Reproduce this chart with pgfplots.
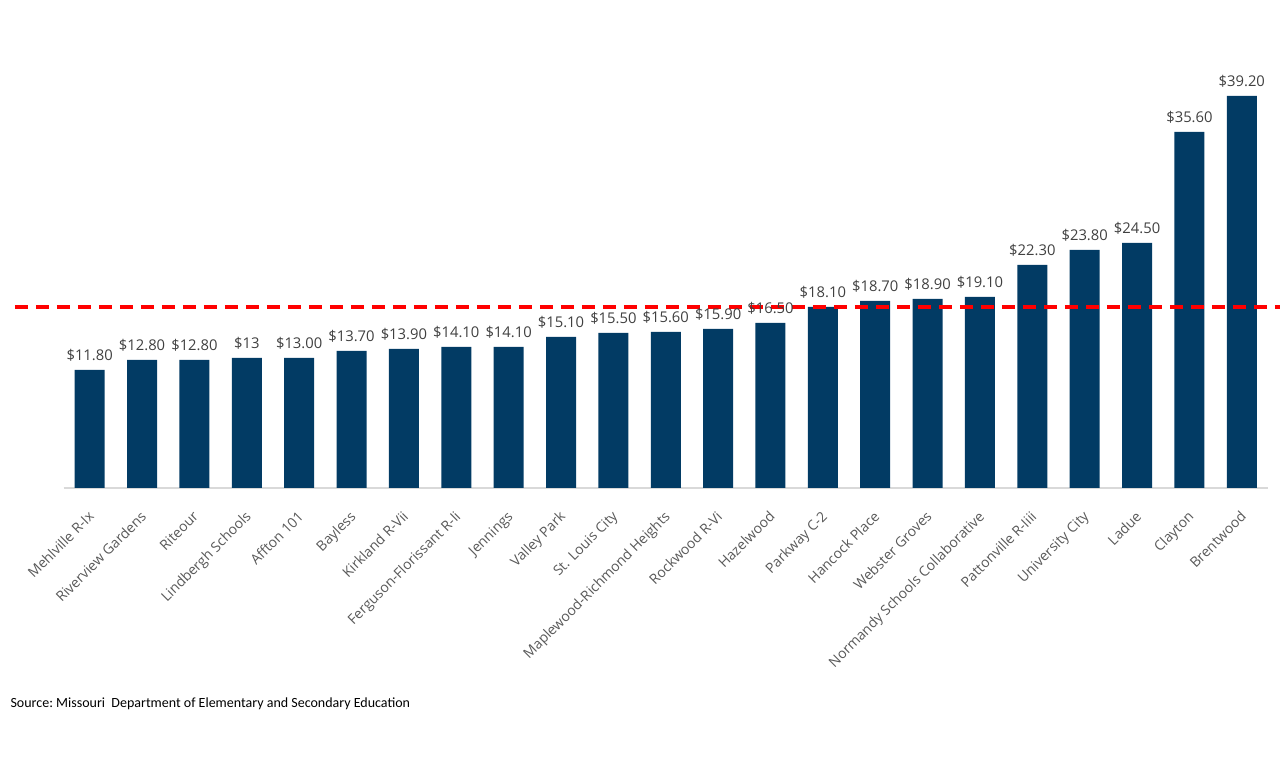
\documentclass[border=0pt]{standalone}
\usepackage{pgfplots}
\pgfplotsset{compat=1.18}
\usepackage{pgfplotstable}
\usepackage{fontspec}
\setmainfont{Open Sans}
\newfontfamily\calibri{Carlito}
\usetikzlibrary{calc}

\definecolor{barblue}{HTML}{023B64}
\definecolor{lblgray}{HTML}{404040}
\definecolor{tickgray}{HTML}{595959}
\definecolor{axgray}{HTML}{D9D9D9}

% x, value, shown label
\pgfplotstableread{
x y lab
0 11.8 11.80
1 12.8 12.80
2 12.8 12.80
3 13.0 13
4 13.0 13.00
5 13.7 13.70
6 13.9 13.90
7 14.1 14.10
8 14.1 14.10
9 15.1 15.10
10 15.5 15.50
11 15.6 15.60
12 15.9 15.90
13 16.5 16.50
14 18.1 18.10
15 18.7 18.70
16 18.9 18.90
17 19.1 19.10
18 22.3 22.30
19 23.8 23.80
20 24.5 24.50
21 35.6 35.60
22 39.2 39.20
}\rates

\begin{document}
\begin{tikzpicture}
\begin{axis}[
  name=ax,
  scale only axis,
  width=602.25pt, height=200pt,
  xmin=-0.5, xmax=22.5,
  ymin=0, ymax=40,
  axis x line=bottom,
  axis y line=none,
  x axis line style={-, draw=axgray, line width=1pt},
  xtick=data,
  major tick length=0pt,
  xticklabels={Mehlville R-Ix, Riverview Gardens, Riteour, Lindbergh Schools, Affton 101, Bayless, Kirkland R-Vii, Ferguson-Florissant R-Ii, Jennings, Valley Park, St. Louis City, Maplewood-Richmond Heights, Rockwood R-Vi, Hazelwood, Parkway C-2, Hancock Place, Webster Groves, Normandy Schools Collaborative, Pattonville R-Iiii, University City, Ladue, Clayton, Brentwood},
  xticklabel style={rotate=45, anchor=north east, font=\fontsize{7}{8}\selectfont, text=tickgray, inner sep=1pt, yshift=-5.8pt, xshift=-7.5pt},
  ybar, bar width=15pt,
  clip=false,
  nodes near coords={\$\pgfplotspointmeta},
  point meta=explicit symbolic,
  every node near coord/.append style={font=\fontsize{7.4}{8}\selectfont, text=lblgray, yshift=1pt},
]
\addplot[fill=barblue, draw=none] table[x=x, y=y, meta=lab] {\rates};
\addplot[sharp plot, draw=red, line width=2pt, dash pattern=on 6.5pt off 4pt, nodes near coords={}, forget plot]
  coordinates {(-1.43,18.1) (22.73,18.1)};
\end{axis}
\node[anchor=west, font=\calibri\fontsize{7}{8}\selectfont, text=black] at ($(ax.south west)+(-30pt,-108pt)$) {Source:\ Missouri\ \ Department of Elementary and Secondary Education};
\pgfresetboundingbox
\path[use as bounding box] ($(ax.south west)+(-31.75pt,-141pt)$) rectangle ($(ax.north east)+(6pt,44pt)$);
\end{tikzpicture}
\end{document}
